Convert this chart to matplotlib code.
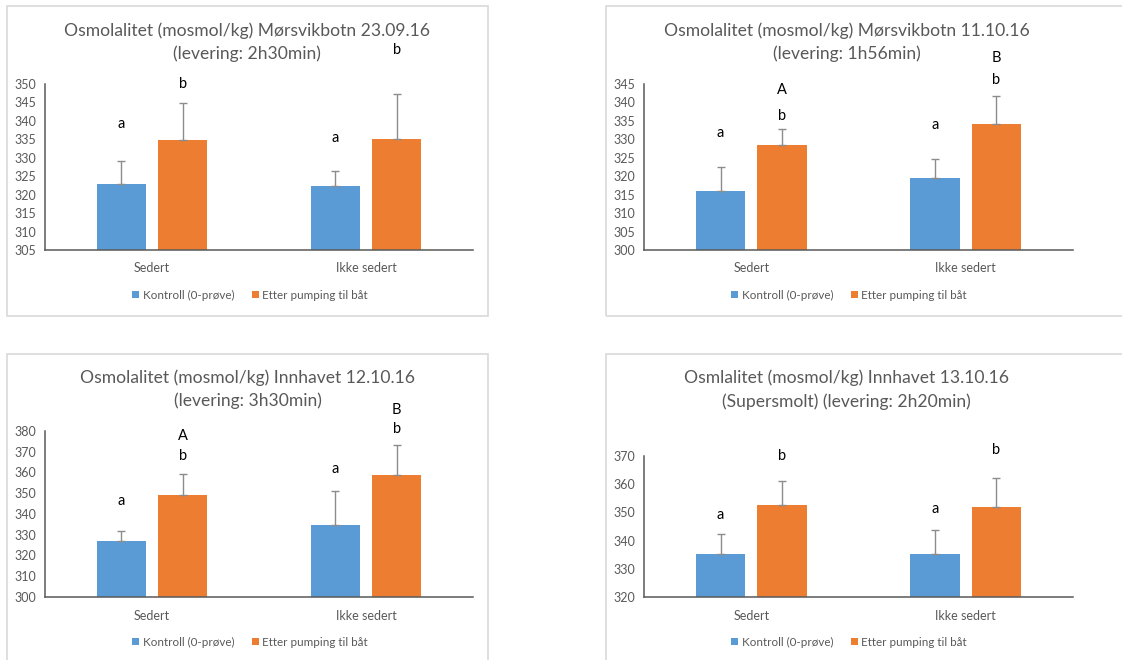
import matplotlib
matplotlib.use("Agg")
import matplotlib.pyplot as plt
from matplotlib.patches import Rectangle
import numpy as np

plt.rcParams['font.family'] = ['Lato', 'DejaVu Sans']

categories = ["Sedert", "Ikke sedert"]
series_names = ["Kontroll (0-prøve)", "Etter pumping til båt"]

titles = [
    ["Osmolalitet (mosmol/kg) Mørsvikbotn 23.09.16", "(levering: 2h30min)"],
    ["Osmolalitet (mosmol/kg) Mørsvikbotn 11.10.16", "(levering: 1h56min)"],
    ["Osmolalitet (mosmol/kg) Innhavet 12.10.16", "(levering: 3h30min)"],
    ["Osmlalitet (mosmol/kg) Innhavet 13.10.16", "(Supersmolt) (levering: 2h20min)"],
]

# values [kontroll, etter] per category
kontroll = [
    [322.8, 322.4],
    [315.9, 319.4],
    [327.2, 334.6],
    [335.3, 335.3],
]
kontroll_err = [
    [6.2, 3.9],
    [6.5, 5.4],
    [4.4, 16.6],
    [7.1, 8.5],
]
etter = [
    [334.7, 335.2],
    [328.5, 334.1],
    [349.0, 358.8],
    [352.7, 351.8],
]
etter_err = [
    [10.2, 12.2],
    [4.4, 7.7],
    [10.3, 14.5],
    [8.3, 10.3],
]

# significance letters: (series, category, text, y)
letters = [
    [(0, 0, "a", 339.2), (1, 0, "b", 350.0), (0, 1, "a", 335.3), (1, 1, "b", 359.2)],
    [(0, 0, "a", 331.7), (1, 0, "b", 336.4), (1, 0, "A", 343.5),
     (0, 1, "a", 333.9), (1, 1, "b", 346.2), (1, 1, "B", 352.1)],
    [(0, 0, "a", 346.5), (1, 0, "b", 368.1), (1, 0, "A", 377.6),
     (0, 1, "a", 361.5), (1, 1, "b", 381.0), (1, 1, "B", 389.9)],
    [(0, 0, "a", 349.1), (1, 0, "b", 370.1), (0, 1, "a", 351.1), (1, 1, "b", 372.1)],
]

ylims = [(305, 350, 5), (300, 345, 5), (300, 380, 10), (320, 370, 10)]

W, H = 1122, 660
fig = plt.figure(figsize=(W / 100, H / 100), dpi=100)

def fx(px):
    return px / W

def fy(py):
    return 1 - py / H

layout = [
    dict(border=(7, 6, 488, 316), axes=(45, 84, 473, 250), tx=247, ty=(31, 54), lx=250, ly=295),
    dict(border=(606, 6, 1130, 316), axes=(644, 84, 1073, 250), tx=847, ty=(31, 54), lx=849, ly=295),
    dict(border=(7, 354, 488, 670), axes=(45, 431, 473, 597), tx=248, ty=(378, 401), lx=250, ly=642),
    dict(border=(606, 354, 1130, 670), axes=(644, 456, 1073, 597), tx=846, ty=(378, 402), lx=849, ly=642),
]

blue = "#5B9BD5"
orange = "#ED7D31"
text_grey = "#595959"
bw = 0.23
off = 0.143
x = np.arange(len(categories))

for i, L in enumerate(layout):
    bx0, by0, bx1, by1 = L["border"]
    fig.patches.append(Rectangle((fx(bx0), fy(by1)), fx(bx1 - bx0), (by1 - by0) / H,
                                 transform=fig.transFigure, fill=False,
                                 edgecolor="#D9D9D9", linewidth=1.2, zorder=0))
    ax0, ay0, ax1, ay1 = L["axes"]
    ax = fig.add_axes([fx(ax0), fy(ay1), fx(ax1 - ax0), (ay1 - ay0) / H])
    ax.bar(x - off, kontroll[i], bw, color=blue, label=series_names[0], zorder=2)
    ax.bar(x + off, etter[i], bw, color=orange, label=series_names[1], zorder=2)
    ax.errorbar(x - off, kontroll[i], yerr=[[0, 0], kontroll_err[i]], fmt="none",
                ecolor="#8C8C8C", elinewidth=1, capsize=3, capthick=1, zorder=3)
    ax.errorbar(x + off, etter[i], yerr=[[0, 0], etter_err[i]], fmt="none",
                ecolor="#8C8C8C", elinewidth=1, capsize=3, capthick=1, zorder=3)
    lo, hi, step = ylims[i]
    ax.set_ylim(lo, hi)
    ax.set_yticks(np.arange(lo, hi + 0.1, step))
    ax.set_xlim(-0.5, 1.5)
    ax.set_xticks(x)
    ax.set_xticklabels(categories)
    ax.tick_params(axis="both", length=0, colors=text_grey, labelsize=9)
    ax.tick_params(axis="x", pad=9)
    ax.tick_params(axis="y", pad=6)
    for s in ["top", "right"]:
        ax.spines[s].set_visible(False)
    for s in ["left", "bottom"]:
        ax.spines[s].set_color("#595959")
        ax.spines[s].set_linewidth(1.1)
    for (ser, cat, txt, yy) in letters[i]:
        xx = cat + (off if ser == 1 else -off)
        ax.text(xx, yy, txt, ha="center", va="center", fontsize=10.5,
                color="black", clip_on=False)
    for line, ty in zip(titles[i], L["ty"]):
        fig.text(fx(L["tx"]), fy(ty), line, ha="center", va="center",
                 fontsize=12.6, color=text_grey)
    ax.legend(loc="center", bbox_to_anchor=(fx(L["lx"]), fy(L["ly"])),
              bbox_transform=fig.transFigure, ncol=2, frameon=False,
              handlelength=0.6, handleheight=0.6, handletextpad=0.3,
              columnspacing=1.5, fontsize=8.4, labelcolor=text_grey)

fig.savefig("out.png", dpi=100, facecolor="white")
